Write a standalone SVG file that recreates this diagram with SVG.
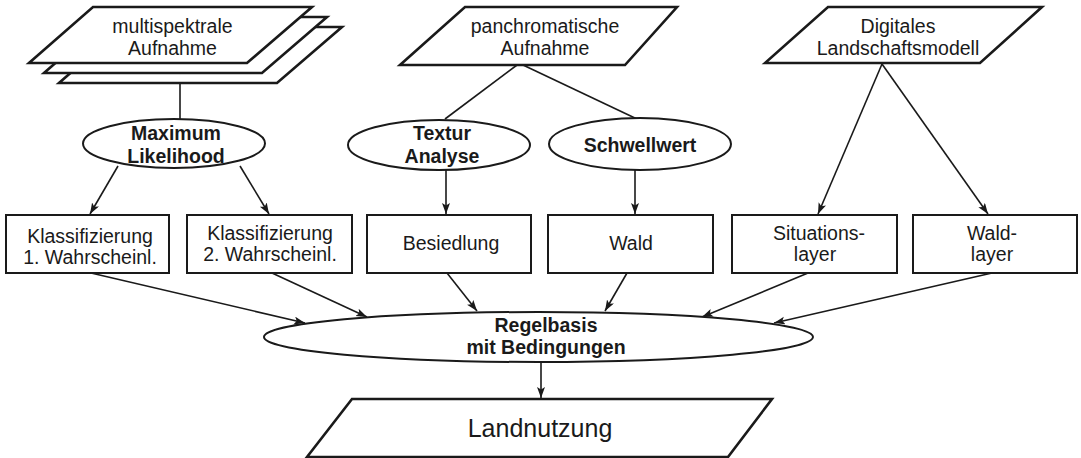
<svg xmlns="http://www.w3.org/2000/svg" width="1081" height="458" viewBox="0 0 1081 458">
<defs>
<marker id="ah" markerUnits="userSpaceOnUse" markerWidth="12" markerHeight="9" refX="11" refY="4" orient="auto">
<path d="M0,0 L11,4 L0,8 L2.5,4 z" fill="#1a1a1a"/>
</marker>
<style>
.para{fill:#fff;stroke:#1a1a1a;stroke-width:2.6;stroke-linejoin:miter}
.box{fill:#fff;stroke:#1a1a1a;stroke-width:2}
.ell{fill:#fff;stroke:#1a1a1a;stroke-width:2}
.t{font-family:"Liberation Sans",Arial,sans-serif;font-size:19.5px;fill:#1a1a1a;text-anchor:middle}
.b{font-weight:bold}
.c{stroke:#1a1a1a;stroke-width:1.6;fill:none}
.a{marker-end:url(#ah)}
</style>
</defs>
<rect width="1081" height="458" fill="#fff"/>

<g id="connectors">
<line class="c" x1="180" y1="83" x2="180" y2="119"/>
<line class="c" x1="517" y1="65" x2="445" y2="119"/>
<line class="c" x1="523" y1="65" x2="637" y2="119"/>
<line class="c a" x1="118" y1="166" x2="90" y2="214"/>
<line class="c a" x1="240" y1="166" x2="269" y2="214"/>
<line class="c a" x1="446" y1="170" x2="446" y2="214"/>
<line class="c a" x1="635" y1="170" x2="635" y2="214"/>
<line class="c a" x1="882" y1="64" x2="818" y2="214"/>
<line class="c a" x1="882" y1="64" x2="988" y2="214"/>
<line class="c a" x1="91" y1="273" x2="305" y2="323"/>
<line class="c a" x1="272" y1="273" x2="367" y2="317"/>
<line class="c a" x1="447" y1="273" x2="477" y2="311"/>
<line class="c a" x1="627" y1="273" x2="605" y2="311"/>
<line class="c a" x1="808" y1="273" x2="702" y2="317"/>
<line class="c a" x1="992" y1="273" x2="774" y2="323"/>
<line class="c a" x1="541" y1="362" x2="541" y2="398"/>
</g>

<g id="multispektrale">
<polygon class="para" points="123,27 342,27 277,83 59,83"/>
<polygon class="para" points="108,17 327,17 262,73 44,73"/>
<polygon class="para" points="93,7 312,7 247,63 29,63"/>
<text class="t" x="172.5" y="33">multispektrale</text>
<text class="t" x="172.5" y="55">Aufnahme</text>
</g>

<g id="panchromatische">
<polygon class="para" points="465,7 677,7 625,65 400,65"/>
<text class="t" x="545" y="33">panchromatische</text>
<text class="t" x="545" y="55">Aufnahme</text>
</g>

<g id="dlm">
<polygon class="para" points="828,7 1042,7 980,63 765,63"/>
<text class="t" x="898" y="33">Digitales</text>
<text class="t" x="898" y="55">Landschaftsmodell</text>
</g>

<g id="maxlike">
<ellipse class="ell" cx="174" cy="143.5" rx="91" ry="24.5"/>
<text class="t b" x="176" y="140">Maximum</text>
<text class="t b" x="176" y="163">Likelihood</text>
</g>

<g id="textur">
<ellipse class="ell" cx="439" cy="145" rx="91" ry="25"/>
<text class="t b" x="442" y="140">Textur</text>
<text class="t b" x="442" y="163">Analyse</text>
</g>

<g id="schwellwert">
<ellipse class="ell" cx="640" cy="144" rx="91" ry="26"/>
<text class="t b" x="640" y="152">Schwellwert</text>
</g>

<g id="klass1">
<rect class="box" x="6" y="215" width="163" height="58"/>
<text class="t" x="90" y="243">Klassifizierung</text>
<text class="t" x="90" y="264">1. Wahrscheinl.</text>
</g>

<g id="klass2">
<rect class="box" x="187" y="215" width="165" height="58"/>
<text class="t" x="270" y="240">Klassifizierung</text>
<text class="t" x="270" y="261">2. Wahrscheinl.</text>
</g>

<g id="besiedlung">
<rect class="box" x="367" y="215" width="164" height="58"/>
<text class="t" x="451" y="250">Besiedlung</text>
</g>

<g id="wald">
<rect class="box" x="548" y="215" width="165" height="58"/>
<text class="t" x="631" y="250">Wald</text>
</g>

<g id="situationslayer">
<rect class="box" x="732" y="215" width="165" height="58"/>
<text class="t" x="819" y="240">Situations-</text>
<text class="t" x="815" y="261">layer</text>
</g>

<g id="waldlayer">
<rect class="box" x="913" y="215" width="164" height="58"/>
<text class="t" x="992" y="240">Wald-</text>
<text class="t" x="992" y="261">layer</text>
</g>

<g id="regelbasis">
<ellipse class="ell" cx="538.5" cy="337" rx="274.5" ry="25"/>
<text class="t b" x="546" y="332">Regelbasis</text>
<text class="t b" x="546" y="354">mit Bedingungen</text>
</g>

<g id="landnutzung">
<polygon class="para" points="352,399 772,399 728,457 307,457"/>
<text class="t" x="540" y="437" style="font-size:25px">Landnutzung</text>
</g>
</svg>
